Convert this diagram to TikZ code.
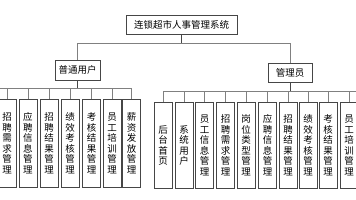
\documentclass[tikz,border=0pt]{standalone}
\usepackage{fontspec}
\setmainfont{Noto Sans CJK SC}
\XeTeXlinebreaklocale "zh"
\XeTeXlinebreakskip=0pt plus 1pt
\definecolor{boxcol}{RGB}{70,70,70}
\definecolor{linecol}{RGB}{128,128,128}
\begin{document}
\begin{tikzpicture}[x=1pt,y=-1pt,
    box/.style={draw=boxcol,line width=.8pt,inner sep=0pt,fill=white,
        font=\fontsize{9.5}{10.5}\selectfont},
    leaf/.style={box,anchor=north,minimum width=18,text width=10,align=center},
    link/.style={draw=linecol,line width=.8pt},
    stem/.style={draw=boxcol,line width=1pt}]
    \useasboundingbox (0,0) rectangle (356,200);
    \clip (0,0) rectangle (356,200);
    % top levels
    \node[box,minimum width=111,minimum height=19] (sys) at (181.5,24.5) {连锁超市人事管理系统};
    \node[box,minimum width=45,minimum height=20] (user) at (77.5,70) {普通用户};
    \node[box,minimum width=44,minimum height=19] (admin) at (290,72.5) {管理员};
    \draw[stem] (sys.south) -- ++(0,9.5);
    \draw[link] (user.north) -- ++(0,-16) -| (admin.north);
    % normal user functions
    \foreach \x/\t [count=\i] in {7/招聘需求管理,28/应聘信息管理,49/招聘结果管理,70/绩效考核管理,
                                  91.5/考核结果管理,112/员工培训管理,131.5/薪资发放管理}
        \node[leaf,minimum height=88] (u\i) at (\x,99) {\t};
    \draw[stem] (user.south) -- ++(0,8.5) coordinate (ubus);
    \coordinate (lend) at (-5,88.5);
    \draw[link] (lend) -- (u7.north |- lend);
    \foreach \i in {1,...,7}
        \draw[link] (u\i.north) -- (u\i.north |- lend);
    % admin functions
    \foreach \x/\t [count=\i] in {163/后台首页,184/系统用户,204.5/员工信息管理,225.5/招聘需求管理,
                                  246/岗位类型管理,267.5/应聘信息管理,288/招聘结果管理,
                                  308/绩效考核管理,328/考核结果管理,349/员工培训管理}
        \node[leaf,minimum height=86] (a\i) at (\x,102) {\t};
    \draw[stem] (admin.south) -- ++(0,9) coordinate (abus);
    \coordinate (rend) at (365,91);
    \draw[link] (a1.north |- rend) -- (rend);
    \foreach \i in {1,...,10}
        \draw[link] (a\i.north) -- (a\i.north |- rend);
\end{tikzpicture}
\end{document}
